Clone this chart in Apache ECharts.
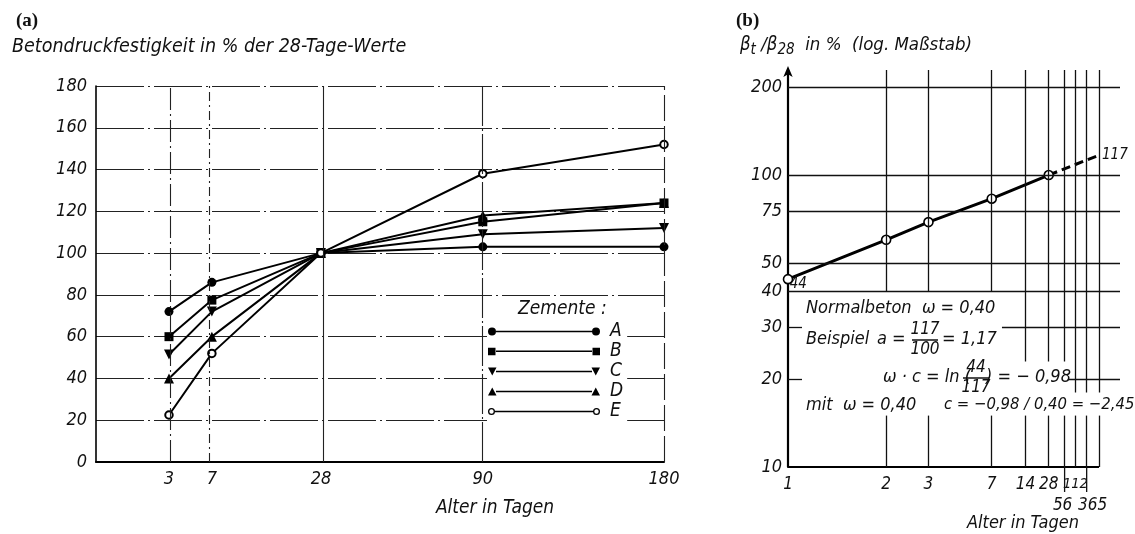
<!DOCTYPE html>
<html>
<head>
<meta charset="utf-8">
<script src="https://cdn.jsdelivr.net/npm/echarts@6/dist/echarts.min.js"></script>
<style>
  html, body { margin: 0; padding: 0; background: #fff; }
  #chart { width: 1135px; height: 534px; }
</style>
</head>
<body>
<div id="chart"></div>
<script>
// ---------- (a) strength development of five cements, % of the 28-day value ----------
const agesA = [3, 7, 28, 90, 180];
// relative spacing of the age axis in (a) (the axis is neither linear nor logarithmic)
const ageSlotsA = [0.1285, 0.204, 0.396, 0.681, 1.0];
const cementNames = ['A', 'B', 'C', 'D', 'E'];
const cementA = [72, 86, 100, 103, 103];
const cementB = [60, 77.5, 100, 115, 124];
const cementC = [51.5, 72, 100, 109, 112];
const cementD = [40, 60, 100, 118, 124];
const cementE = [22.5, 52, 100, 138, 152];

// ---------- (b) normal concrete, w = 0.40, ratio beta_t / beta_28 on a log scale ----------
const agesB = [1, 2, 3, 7, 28];
const ratioB = [44, 60, 69, 83, 100];
const ratioInfinity = 117;
const ageTicksB = [1, 2, 3, 7, 14, 28, 56, 112, 365, Infinity];
const ageTickLabelsB = ['1', '2', '3', '7', '14', '28', '{l|\n56}', '{n|112}', '{r|\n365}', '∞'];
const ageLowerRowB = [56, 365];
const ratioTicksB = [10, 20, 30, 40, 50, 75, 100, 200];

// age scale of (b): 1 day at 0, t -> infinity at 1
const agePosB = t => (t === Infinity ? 1 : 1 - Math.pow(t, -0.547));

const FONT = "'DejaVu Sans Condensed', 'DejaVu Sans', sans-serif";
const INK = '#111';

// legend symbols: marker - line - marker
const LINE = 'M8,3.2L104,3.2L104,4.8L8,4.8Z';
const legendIcons = [
  'path://M0,4A4,4,0,1,1,8,4A4,4,0,1,1,0,4Z' + LINE + 'M104,4A4,4,0,1,1,112,4A4,4,0,1,1,104,4Z',
  'path://M0,0.5L7.5,0.5L7.5,8L0,8Z' + LINE + 'M104.5,0.5L112,0.5L112,8L104.5,8Z',
  'path://M0,0L8.5,0L4.25,8Z' + LINE + 'M103.5,0L112,0L107.75,8Z',
  'path://M0,8L8.5,8L4.25,0Z' + LINE + 'M103.5,8L112,8L107.75,0Z',
  'path://M0,4A3.5,3.5,0,1,1,7,4A3.5,3.5,0,1,1,0,4ZM1.3,4A2.2,2.2,0,1,0,5.7,4A2.2,2.2,0,1,0,1.3,4Z' +
    'M7,3.2L105,3.2L105,4.8L7,4.8Z' +
    'M105,4A3.5,3.5,0,1,1,112,4A3.5,3.5,0,1,1,105,4ZM106.3,4A2.2,2.2,0,1,0,110.7,4A2.2,2.2,0,1,0,106.3,4Z'
];

const cementValues = [cementA, cementB, cementC, cementD, cementE];
const cementSymbols = [
  { symbol: 'circle', symbolSize: 9 },
  { symbol: 'rect', symbolSize: 9 },
  { symbol: 'triangle', symbolSize: 10, symbolRotate: 180 },
  { symbol: 'triangle', symbolSize: 10 },
  { symbol: 'emptyCircle', symbolSize: 7.5 }
];

const cementSeries = cementNames.map((name, k) => Object.assign({
  type: 'line',
  name: name,
  xAxisIndex: 0,
  yAxisIndex: 0,
  data: agesA.map((d, i) => [ageSlotsA[i], cementValues[k][i]]),
  lineStyle: { color: '#000', width: 2 },
  itemStyle: { color: '#000', borderWidth: k === 4 ? 1.3 : 0 },
  z: 3
}, cementSymbols[k]));

// vertical rulings of (a), one per age, each with its own drafting line type
const rulingTypesA = [[22, 4, 2, 4], [9, 4, 2, 4], 'solid', [40, 3, 2, 3], [26, 5]];

const gridSeriesA = {
  type: 'line',
  xAxisIndex: 0,
  yAxisIndex: 0,
  data: [],
  silent: true,
  markLine: {
    silent: true,
    symbol: 'none',
    label: { show: false },
    data: ageSlotsA.map((s, i) => ({
      xAxis: s,
      lineStyle: { color: '#222', width: 1.1, type: rulingTypesA[i] }
    }))
  }
};

// ---------- rulings of (b) ----------
const xMaxB = 332 / 311;
const ratioTop = 229;
const tickLenB = 0.045;
const lineB = { color: '#111', width: 1.3, type: 'solid' };
const labelB = {
  show: true, position: 'start', distance: 6,
  fontFamily: FONT, fontStyle: 'italic', fontSize: 18, color: INK,
  formatter: p => p.value
};
const noLabel = { show: false };

const hLines = [];
[200, 100, 75, 50, 40].forEach(v => hLines.push({ yAxis: v, value: v, label: labelB, lineStyle: lineB }));
// 30 and 20 are only partly ruled
[[30, 0.688], [20, 0.9]].forEach(([v, from]) => {
  hLines.push([{ coord: [0, v], value: v, label: labelB, lineStyle: lineB }, { coord: [tickLenB, v] }]);
  hLines.push([{ coord: [from, v], label: noLabel, lineStyle: lineB }, { coord: [xMaxB, v] }]);
});
// bottom axis of (b), 1 day .. infinity
hLines.push([{ coord: [0, 10], value: 10, label: labelB, lineStyle: { color: '#000', width: 2.2, type: 'solid' } }, { coord: [1, 10] }]);

// vertical rulings, interrupted where the notes are written
const vBreaks = { 2: 40, 3: 40, 7: 40, 14: 23, 28: 23, 56: 23, 112: 18, 365: 18, Infinity: 18 };
ageTicksB.slice(1).forEach(t => {
  const x = agePosB(t);
  hLines.push([{ coord: [x, ratioTop], label: noLabel, lineStyle: lineB }, { coord: [x, vBreaks[t]] }]);
  hLines.push([{ coord: [x, 15], label: noLabel, lineStyle: lineB }, { coord: [x, 10] }]);
});

const gridSeriesB = {
  type: 'line',
  xAxisIndex: 1,
  yAxisIndex: 1,
  data: [],
  silent: true,
  z: 1,
  markLine: { silent: true, symbol: 'none', data: hLines }
};

const dashedB = {
  type: 'line',
  xAxisIndex: 1,
  yAxisIndex: 1,
  data: [[agePosB(28), ratioB[ratioB.length - 1]], [agePosB(Infinity), ratioInfinity]],
  symbol: 'none',
  lineStyle: { color: '#000', width: 3, type: [9, 5] },
  endLabel: {
    show: true, distance: 3, formatter: p => p.value[1],
    fontFamily: FONT, fontStyle: 'italic', fontSize: 15, color: INK
  },
  z: 2
};

const solidB = {
  type: 'line',
  xAxisIndex: 1,
  yAxisIndex: 1,
  data: agesB.map((t, i) => [agePosB(t), ratioB[i]]),
  symbol: 'circle',
  symbolSize: 9,
  lineStyle: { color: '#000', width: 3 },
  itemStyle: { color: '#fff', borderColor: '#000', borderWidth: 1.6 },
  label: {
    show: true, position: [7, 3],
    formatter: p => (p.dataIndex === 0 ? p.value[1] : ''),
    fontFamily: FONT, fontStyle: 'italic', fontSize: 15, color: INK
  },
  z: 4
};

// ---------- free text ----------
function txt(x, y, text, o) {
  o = o || {};
  return {
    type: 'text', x: x, y: y, z: 100, silent: true,
    style: {
      text: text,
      fontFamily: o.family || FONT,
      fontStyle: o.style || 'italic',
      fontWeight: o.weight || 'normal',
      fontSize: o.size || 18,
      fill: INK,
      align: o.align || 'left',
      verticalAlign: 'middle'
    }
  };
}
function fraction(cx, cy, num, den) {
  return [
    txt(cx, cy - 10, num, { align: 'center', size: 17 }),
    { type: 'line', z: 100, silent: true, shape: { x1: cx - 13, y1: cy, x2: cx + 13, y2: cy }, style: { stroke: INK, lineWidth: 1.5 } },
    txt(cx, cy + 10, den, { align: 'center', size: 17 })
  ];
}

const graphics = [
  txt(16, 21, '(a)', { family: "'Liberation Serif', serif", style: 'normal', weight: 'bold', size: 19 }),
  txt(736, 21, '(b)', { family: "'Liberation Serif', serif", style: 'normal', weight: 'bold', size: 19 }),
  txt(12, 47, 'Betondruckfestigkeit in % der 28-Tage-Werte', { size: 19.5 }),
  txt(518, 309, 'Zemente :', { size: 19 }),
  txt(495, 508, 'Alter in Tagen', { align: 'center', size: 19 }),
  txt(1023, 523, 'Alter in Tagen', { align: 'center' }),
  {
    type: 'text', x: 740, y: 45, z: 100, silent: true,
    style: {
      text: '{b|β}{s|t}{b| /β}{s|28}{b|  in %  (log. Maßstab)}',
      verticalAlign: 'middle',
      rich: {
        b: { fontFamily: FONT, fontStyle: 'italic', fontSize: 18.5, fill: INK, lineHeight: 26, verticalAlign: 'middle' },
        s: { fontFamily: FONT, fontStyle: 'italic', fontSize: 15, fill: INK, lineHeight: 16, verticalAlign: 'bottom' }
      }
    }
  },
  txt(806, 308, 'Normalbeton  ω = 0,40'),
  txt(806, 339, 'Beispiel'),
  txt(877, 339, 'a ='),
].concat(
  fraction(925, 340, '117', '100'),
  [txt(942, 339, '= 1,17'),
   txt(883, 377, 'ω · c = ln ('),],
  fraction(976, 378, '44', '117'),
  [txt(986, 377, ') = − 0,98'),
   txt(806, 405, 'mit  ω = 0,40'),
   txt(944, 405, 'c = −0,98 / 0,40 = −2,45', { size: 16.5 })]
);

const axisLabelStyle = { fontFamily: FONT, fontStyle: 'italic', fontSize: 18, color: INK };

const option = {
  animation: false,
  backgroundColor: '#fff',
  grid: [
    { left: 96, top: 86, width: 568, height: 376 },
    { left: 788, top: 70, width: 332, height: 397 }
  ],
  xAxis: [
    {
      type: 'value', gridIndex: 0, min: 0, max: 1,
      axisLine: { show: true, lineStyle: { color: '#000', width: 2 } },
      axisTick: { show: false },
      splitLine: { show: false },
      axisLabel: Object.assign({
        margin: 8,
        customValues: ageSlotsA,
        formatter: v => {
          const i = ageSlotsA.findIndex(s => Math.abs(s - v) < 1e-6);
          return i >= 0 ? String(agesA[i]) : '';
        }
      }, axisLabelStyle)
    },
    {
      type: 'value', gridIndex: 1, min: 0, max: xMaxB,
      // the visible bottom line is ruled only from 1 day to infinity (drawn as a markLine)
      axisLine: { show: false },
      axisTick: { show: false },
      splitLine: { show: false },
      axisLabel: Object.assign({
        margin: 7,
        lineHeight: 21,
        customValues: ageTicksB.map(agePosB),
        formatter: v => {
          const i = ageTicksB.findIndex(t => Math.abs(agePosB(t) - v) < 1e-6);
          return i >= 0 ? ageTickLabelsB[i] : '';
        },
        rich: {
          l: { fontFamily: FONT, fontStyle: 'italic', fontSize: 17, color: INK, lineHeight: 21, padding: [0, 4, 0, 0] },
          r: { fontFamily: FONT, fontStyle: 'italic', fontSize: 17, color: INK, lineHeight: 21, padding: [0, 0, 0, 12] },
          n: { fontFamily: FONT, fontStyle: 'italic', fontSize: 14.5, color: INK, lineHeight: 21 }
        }
      }, axisLabelStyle, { fontSize: 17 })
    }
  ],
  yAxis: [
    {
      type: 'value', gridIndex: 0, min: 0, max: 180, interval: 20,
      axisLine: { show: true, lineStyle: { color: '#000', width: 1.6 } },
      axisTick: { show: false },
      splitLine: { show: true, lineStyle: { color: '#222', width: 1.1, type: [48, 4, 2, 4] } },
      axisLabel: Object.assign({ margin: 9 }, axisLabelStyle)
    },
    {
      type: 'log', logBase: 10, gridIndex: 1, min: 10, max: ratioTop,
      axisLine: {
        show: true, symbol: ['none', 'arrow'], symbolSize: [7, 11], symbolOffset: [0, 4],
        lineStyle: { color: '#000', width: 2.2 }
      },
      axisTick: { show: false },
      splitLine: { show: false },
      axisLabel: { show: false }
    }
  ],
  legend: {
    left: 487, top: 296,
    orient: 'vertical',
    backgroundColor: '#fff',
    padding: [26, 4, 3, 1],
    itemGap: 1,
    itemWidth: 112,
    itemHeight: 8,
    selectedMode: false,
    itemStyle: { borderWidth: 0, color: '#000' },
    textStyle: { fontFamily: FONT, fontStyle: 'italic', fontSize: 19, color: INK, lineHeight: 18, padding: [0, 0, 0, 5] },
    data: cementNames.map((n, i) => ({ name: n, icon: legendIcons[i] }))
  },
  graphic: graphics,
  series: [gridSeriesA].concat(cementSeries, [gridSeriesB, dashedB, solidB])
};

const chart = echarts.init(document.getElementById('chart'), null, { renderer: 'canvas' });
chart.setOption(option);

// long ticks below the age axis of (b) that separate the lower label row (56, 365)
const longTicks = ageLowerRowB.map(t => {
  const p = chart.convertToPixel({ gridIndex: 1 }, [agePosB(t), 10]);
  return {
    type: 'line', z: 100, silent: true,
    shape: { x1: p[0], y1: p[1], x2: p[0], y2: p[1] + 25 },
    style: { stroke: INK, lineWidth: 1.3 }
  };
});
chart.setOption({ graphic: graphics.concat(longTicks) });
</script>
</body>
</html>
